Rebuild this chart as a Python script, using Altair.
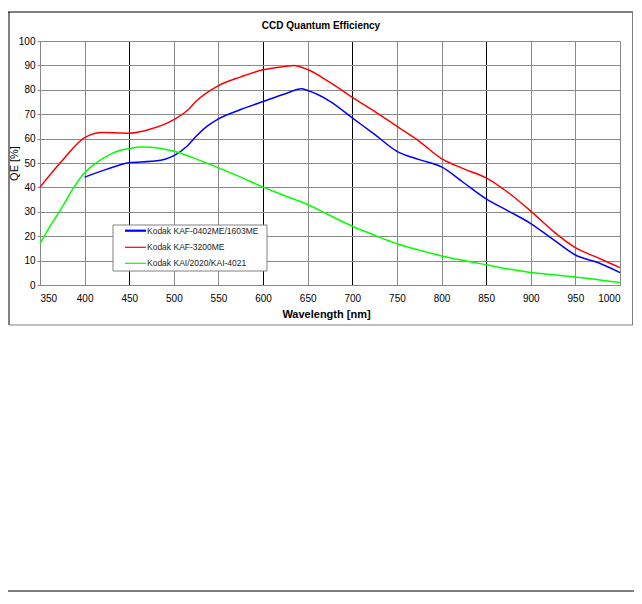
import altair as alt
import pandas as pd

series_names = ["Kodak KAF-0402ME/1603ME", "Kodak KAF-3200ME", "Kodak KAI/2020/KAI-4021"]
series_colors = ["#0000FF", "#FF0000", "#00FF00"]
chart_title = "CCD Quantum Efficiency"

wl_blue = [400, 425, 450, 475, 490, 500, 515, 525, 537, 550, 575, 600, 625, 643, 650, 675, 700, 725, 750, 775, 800, 825, 850, 875, 900, 925, 950, 975, 1000]
qe_blue = [44.2, 47.5, 50.1, 50.7, 51.5, 53.0, 57.0, 61.0, 65.0, 68.1, 71.9, 75.2, 78.4, 80.4, 79.7, 75.3, 68.5, 61.7, 54.8, 51.4, 48.4, 41.9, 35.3, 30.3, 25.2, 18.7, 12.3, 9.2, 5.1]

wl_red = [350, 375, 400, 420, 450, 475, 500, 515, 525, 550, 575, 600, 625, 634, 650, 675, 700, 725, 750, 775, 800, 825, 850, 875, 900, 925, 950, 975, 1000]
qe_red = [40.1, 51.0, 60.4, 62.5, 62.2, 64.0, 67.8, 71.5, 75.3, 81.7, 85.3, 88.2, 89.6, 90.0, 88.3, 83.0, 76.9, 71.2, 65.0, 58.9, 51.8, 47.6, 43.9, 37.8, 30.3, 22.1, 15.3, 11.2, 7.1]

wl_green = [350, 362, 375, 387, 400, 412, 425, 440, 450, 462, 475, 500, 525, 550, 575, 600, 625, 650, 675, 700, 725, 750, 775, 800, 825, 850, 875, 900, 925, 950, 975, 1000]
qe_green = [16.9, 24.5, 32.0, 39.5, 46.0, 49.8, 52.8, 55.2, 55.9, 56.6, 56.5, 54.8, 51.7, 48.0, 44.2, 40.1, 36.5, 33.0, 28.5, 24.1, 20.4, 16.9, 14.3, 11.9, 10.0, 8.3, 6.6, 5.1, 4.2, 3.3, 2.2, 1.0]

x_ticks = list(range(350, 1001, 50))
y_ticks = list(range(0, 101, 10))
dark_grid = [450, 600, 700, 850]

rows = []
for name, wls, vals in zip(series_names, [wl_blue, wl_red, wl_green], [qe_blue, qe_red, qe_green]):
    for w, v in zip(wls, vals):
        rows.append({"series": name, "wl": w, "qe": v})
df = pd.DataFrame(rows)

W, H = 580, 244
FONT = "Liberation Sans"
GRID = "#8a8a8a"

dark_test = " || ".join(f"datum.value == {v}" for v in dark_grid)

lines = alt.Chart(df).mark_line(strokeWidth=1.5, interpolate="monotone").encode(
    x=alt.X("wl:Q",
            scale=alt.Scale(domain=[350, 1000], nice=False, zero=False),
            axis=alt.Axis(values=x_ticks, format="d", title="Wavelength [nm]", ticks=False, labelPadding=8,
                          gridColor={"condition": {"test": dark_test, "value": "#000000"}, "value": GRID},
                          titleX=286, titleY=29, titleBaseline="middle")),
    y=alt.Y("qe:Q",
            scale=alt.Scale(domain=[0, 100], nice=False),
            axis=alt.Axis(values=y_ticks, title="QE [%]", tickSize=3, labelPadding=2,
                          gridColor=GRID, titleX=-26, titleY=H / 2, titleAngle=270,
                          titleFontWeight="normal", titleAlign="center", titleBaseline="middle")),
    color=alt.Color("series:N", scale=alt.Scale(domain=series_names, range=series_colors), legend=None),
)

dummy = pd.DataFrame({"d": [0]})

def rule(x1, x2, y1, y2, color):
    return alt.Chart(dummy).mark_rule(color=color, strokeWidth=1).encode(
        x=alt.value(x1), x2=alt.value(x2), y=alt.value(y1), y2=alt.value(y2))

layers = [lines]

# legend box
layers.append(alt.Chart(dummy).mark_rect(fill="white", stroke="#808080", strokeWidth=1).encode(
    x=alt.value(73), x2=alt.value(227), y=alt.value(184), y2=alt.value(230)))
row_y = [189.7, 206.3, 222.3]
row_w = [2.2, 1.2, 1.2]
for name, col, yy, sw in zip(series_names, series_colors, row_y, row_w):
    layers.append(alt.Chart(dummy).mark_rule(color=col, strokeWidth=sw).encode(
        x=alt.value(85), x2=alt.value(106), y=alt.value(yy)))
    layers.append(alt.Chart(dummy).mark_text(align="left", baseline="middle", font=FONT,
                                             fontSize=8.5, color="#222222").encode(
        x=alt.value(107), y=alt.value(yy), text=alt.value(name)))

# chart title
layers.append(alt.Chart(dummy).mark_text(align="center", baseline="middle", font=FONT,
                                         fontSize=10, fontWeight="bold", color="#000000").encode(
    x=alt.value(281), y=alt.value(-15), text=alt.value(chart_title)))

# outer chart border
layers.append(rule(-32, 593, -29, -29, "#000000"))
layers.append(rule(-31, -31, -29, 284, "#000000"))
layers.append(rule(-31, 593, 284, 284, "#808080"))
layers.append(rule(592.5, 592.5, -29, 284, "#808080"))
# bottom page line
layers.append(rule(-32, 594, 550, 550, "#000000"))

chart = alt.layer(*layers).properties(
    width=W, height=H,
    autosize=alt.AutoSizeParams(type="none"),
    padding={"left": 32, "top": 33, "right": 14, "bottom": 307},
).configure_view(
    fill="#FFFFCC", stroke="#808080", strokeWidth=1
).configure_axis(
    labelFont=FONT, labelFontSize=8.5, labelColor="#111111", tickColor="#555555",
    domain=False, titleFont=FONT, titleFontSize=8.5, titleFontWeight="bold", titleColor="#000000",
    gridWidth=1, gridOpacity=1
).configure(background="white")

chart.save("out.html", embed_options={"renderer": "svg", "actions": False})
